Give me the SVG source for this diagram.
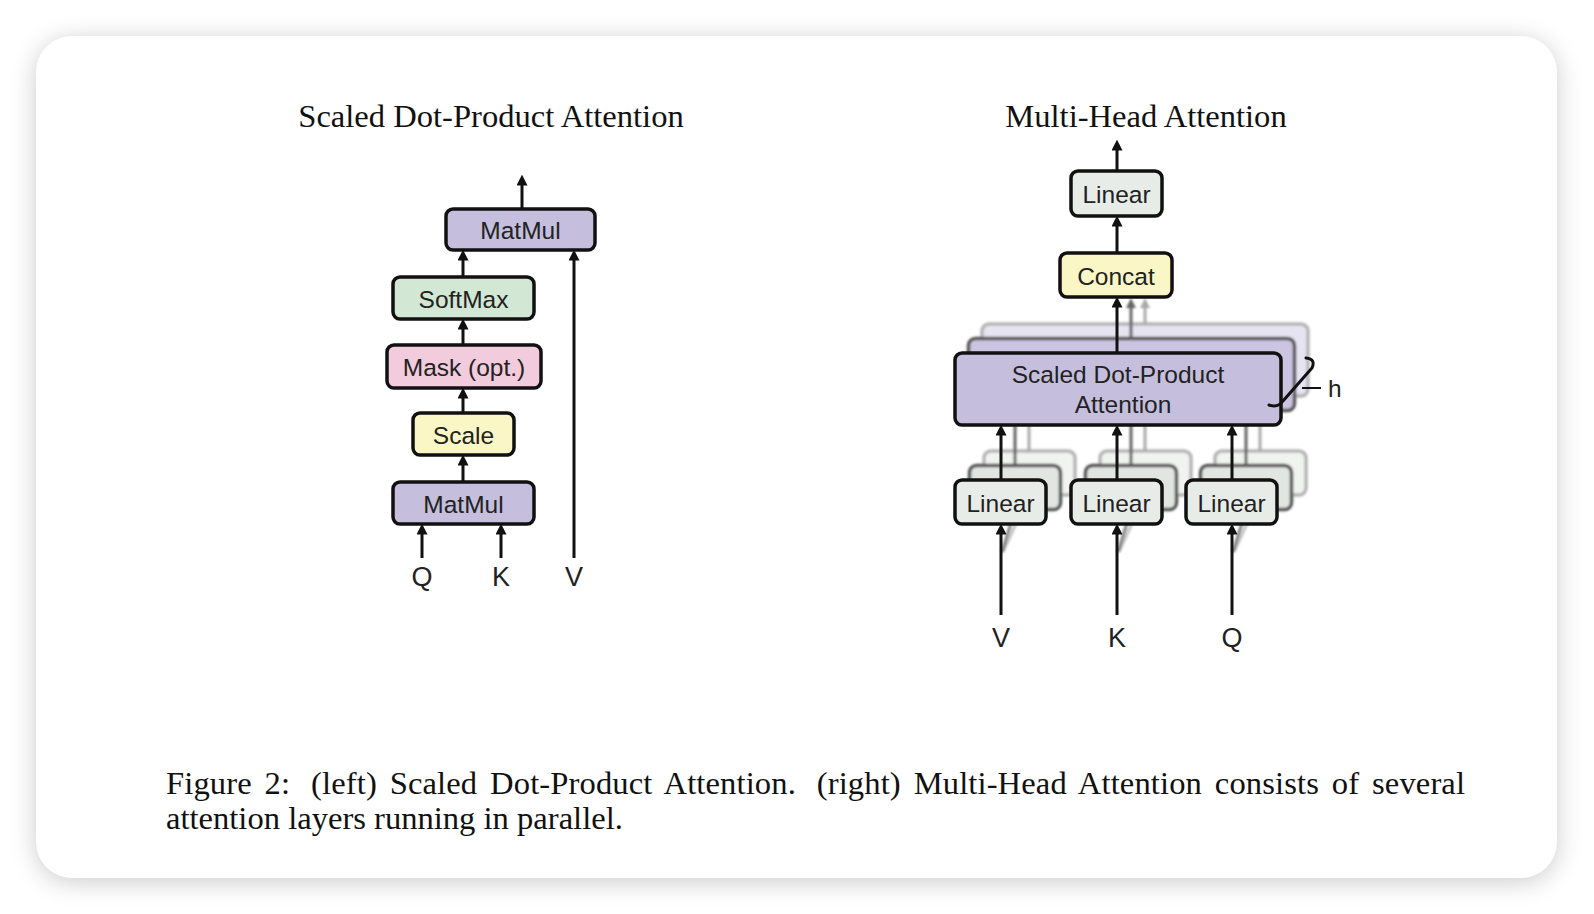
<svg xmlns="http://www.w3.org/2000/svg" width="1594" height="914" viewBox="0 0 1594 914">
<defs>
<filter id="cardShadow" x="-10%" y="-10%" width="120%" height="120%"><feGaussianBlur stdDeviation="13"/></filter>
<filter id="soft" x="-10%" y="-10%" width="120%" height="120%"><feGaussianBlur stdDeviation="0.9"/></filter>
<marker id="ah" viewBox="0 0 10 10" refX="6" refY="5" markerWidth="11" markerHeight="11" markerUnits="userSpaceOnUse" orient="auto"><path d="M0,0 L10,5 L0,10 z" fill="#111"/></marker>
<marker id="ahg" viewBox="0 0 10 10" refX="6" refY="5" markerWidth="10" markerHeight="11" markerUnits="userSpaceOnUse" orient="auto"><path d="M0,0 L10,5 L0,10 z" fill="#666"/></marker>
<marker id="ahl" viewBox="0 0 10 10" refX="6" refY="5" markerWidth="10" markerHeight="11" markerUnits="userSpaceOnUse" orient="auto"><path d="M0,0 L10,5 L0,10 z" fill="#aaa"/></marker>
<style>
.box{stroke:#111;stroke-width:3.5}
.lbl{font-family:"Liberation Sans",Arial,sans-serif;font-size:24.5px;fill:#222;text-anchor:middle}
.io{font-family:"Liberation Sans",Arial,sans-serif;font-size:27px;fill:#222;text-anchor:middle}
.serif{font-family:"Liberation Serif","Times New Roman",serif;font-size:32.6px;fill:#111}
.mm{fill:#c5bfdd}
.sm{fill:#d3e8d4}
.mk{fill:#f2cbdc}
.sc{fill:#fbf6c5}
.ln{fill:#e8ece9}
.c{fill:none;stroke:#111;stroke-width:3;marker-end:url(#ah)}
.cg{fill:none;stroke:#666;stroke-width:3}
.cl{fill:none;stroke:#aaa;stroke-width:3}
.l2{stroke:#555;stroke-width:3.5}
.l3{stroke:#b5b5b5;stroke-width:3.5}
</style>
</defs>

<rect x="36" y="40" width="1521" height="842" rx="36" fill="#000" opacity="0.2" filter="url(#cardShadow)"/>
<rect x="36" y="36" width="1521" height="842" rx="36" fill="#fff"/>

<text class="serif" x="491" y="127" text-anchor="middle">Scaled Dot-Product Attention</text>
<text class="serif" x="1146" y="127" text-anchor="middle">Multi-Head Attention</text>

<g id="shadow-layers" filter="url(#soft)">
  <rect class="l3" x="982" y="324" width="326" height="72" rx="7" fill="#e6e4f1"/>
  <rect class="l3" x="984" y="451" width="91" height="44" rx="7" fill="#f1f3f1"/>
  <rect class="l3" x="1100" y="451" width="91" height="44" rx="7" fill="#f1f3f1"/>
  <rect class="l3" x="1215" y="451" width="91" height="44" rx="7" fill="#f1f3f1"/>
  <path class="cl" d="M1029,451 V397 M1145,451 V397 M1260,451 V397"/>
  <path class="cl" d="M1029,495 L1003,552 M1145,495 L1119,552 M1260,495 L1234,552" opacity="0.7"/>
  <path class="cl" d="M1145,324 V302" marker-end="url(#ahl)"/>
  <rect class="l2" x="968.5" y="338.5" width="326" height="72" rx="7" fill="#cbc5e1"/>
  <rect class="l2" x="969.5" y="465.5" width="91" height="44" rx="7" fill="#e2e6e3"/>
  <rect class="l2" x="1085.5" y="465.5" width="91" height="44" rx="7" fill="#e2e6e3"/>
  <rect class="l2" x="1200.5" y="465.5" width="91" height="44" rx="7" fill="#e2e6e3"/>
  <path class="cg" d="M1015,465 V411 M1131,465 V411 M1246,465 V411"/>
  <path class="cg" d="M1015,510 L1002,552 M1131,510 L1118,552 M1246,510 L1233,552" opacity="0.8"/>
  <path class="cg" d="M1131,338 V302" marker-end="url(#ahg)"/>
</g>

<g id="node-matmul-top"><rect class="box mm" x="446" y="209" width="149" height="41" rx="7"/><text class="lbl" x="520.5" y="239">MatMul</text></g>
<g id="node-softmax"><rect class="box sm" x="393" y="277" width="141" height="42" rx="7"/><text class="lbl" x="463.5" y="307.5">SoftMax</text></g>
<g id="node-mask"><rect class="box mk" x="387" y="345" width="154" height="43" rx="7"/><text class="lbl" x="464" y="376">Mask (opt.)</text></g>
<g id="node-scale"><rect class="box sc" x="413" y="413" width="101" height="42" rx="7"/><text class="lbl" x="463.5" y="443.5">Scale</text></g>
<g id="node-matmul-bottom"><rect class="box mm" x="393" y="482" width="141" height="42" rx="7"/><text class="lbl" x="463.5" y="512.5">MatMul</text></g>
<g id="label-q-left"><text class="io" x="422" y="586">Q</text></g>
<g id="label-k-left"><text class="io" x="501" y="586">K</text></g>
<g id="label-v-left"><text class="io" x="574" y="586">V</text></g>

<g id="node-linear-out"><rect class="box ln" x="1071" y="171" width="91" height="45" rx="7"/><text class="lbl" x="1116.5" y="203">Linear</text></g>
<g id="node-concat"><rect class="box sc" x="1060" y="253" width="112" height="44" rx="7"/><text class="lbl" x="1116" y="284.5">Concat</text></g>
<g id="node-sdpa"><rect class="box mm" x="955" y="353" width="326" height="72" rx="7"/><text class="lbl" x="1118" y="383">Scaled Dot-Product</text><text class="lbl" x="1123" y="413">Attention</text></g>
<g id="node-linear-v"><rect class="box ln" x="955" y="480" width="91" height="44" rx="7"/><text class="lbl" x="1000.5" y="511.5">Linear</text></g>
<g id="node-linear-k"><rect class="box ln" x="1071" y="480" width="91" height="44" rx="7"/><text class="lbl" x="1116.5" y="511.5">Linear</text></g>
<g id="node-linear-q"><rect class="box ln" x="1186" y="480" width="91" height="44" rx="7"/><text class="lbl" x="1231.5" y="511.5">Linear</text></g>
<g id="label-v-right"><text class="io" x="1001" y="647">V</text></g>
<g id="label-k-right"><text class="io" x="1117" y="647">K</text></g>
<g id="label-q-right"><text class="io" x="1232" y="647">Q</text></g>
<g id="label-h"><path d="M1306,358 Q1316,359 1312,368 L1283,401 Q1278,408 1269,405" fill="none" stroke="#111" stroke-width="3" stroke-linecap="round"/><path d="M1302,388 H1321" stroke="#111" stroke-width="2"/><text x="1328" y="397" font-family="Liberation Sans, Arial, sans-serif" font-size="24.5" fill="#222">h</text></g>

<g id="connectors">
  <path class="c" d="M522,209 V179"/>
  <path class="c" d="M463,277 V254"/>
  <path class="c" d="M463,345 V323"/>
  <path class="c" d="M463,413 V392"/>
  <path class="c" d="M463,482 V459"/>
  <path class="c" d="M422,558 V528"/>
  <path class="c" d="M501,558 V528"/>
  <path class="c" d="M574,558 V254"/>
  <path class="c" d="M1117,171 V144"/>
  <path class="c" d="M1117,253 V220"/>
  <path class="c" d="M1117,353 V301"/>
  <path class="c" d="M1001,480 V429"/>
  <path class="c" d="M1117,480 V429"/>
  <path class="c" d="M1232,480 V429"/>
  <path class="c" d="M1001,615 V528"/>
  <path class="c" d="M1117,615 V528"/>
  <path class="c" d="M1232,615 V528"/>
</g>

<text class="serif" x="166" y="794" word-spacing="4.6" textLength="1299" lengthAdjust="spacing">Figure 2: <tspan dx="8">(left)</tspan> Scaled Dot-Product Attention. <tspan dx="8">(right)</tspan> Multi-Head Attention consists of several</text>
<text class="serif" x="166" y="829">attention layers running in parallel.</text>
</svg>
